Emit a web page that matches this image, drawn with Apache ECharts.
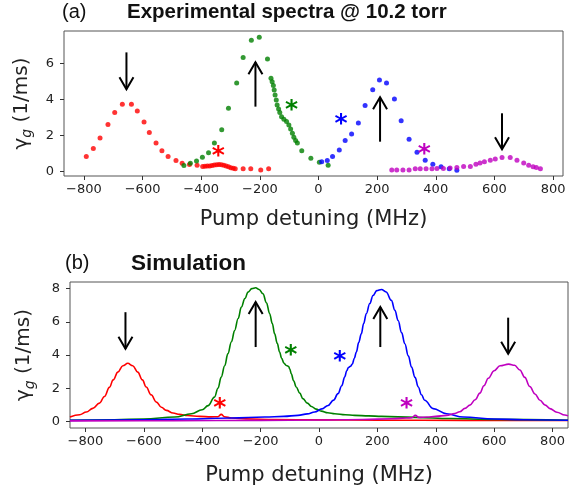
<!DOCTYPE html>
<html>
<head>
<meta charset="utf-8">
<script src="https://cdn.jsdelivr.net/npm/echarts@6/dist/echarts.min.js"></script>
<style>
html,body{margin:0;padding:0;background:#fff;}
#chart{width:570px;height:493px;}
</style>
</head>
<body>
<div id="chart"></div>
<script>
// ---------- DATA ----------
// (a) experimental spectra: [detuning MHz, gamma_g 1/ms]
const expRed = [[-792,0.81],[-768,1.26],[-745,1.85],[-718,2.59],[-695,3.26],[-669,3.72],[-638,3.72],[-618,3.35],[-595,2.74],[-577,2.15],[-554,1.56],[-534,1.13],[-513,0.81],[-486,0.59],[-465,0.44],[-440,0.37],[-414,0.33],[-395,0.26],[-387,0.27],[-379,0.28],[-371,0.29],[-363,0.31],[-355,0.34],[-347,0.36],[-339,0.37],[-331,0.36],[-323,0.33],[-315,0.28],[-307,0.24],[-299,0.19],[-291,0.16],[-284,0.14],[-257,0.13],[-231,0.13],[-197,0.06],[-170,0.13]];
const expGreen = [[-459,0.31],[-437,0.44],[-416,0.56],[-396,0.77],[-375,1.03],[-355,1.56],[-330,2.31],[-307,3.5],[-279,4.91],[-257,6.32],[-229,7.28],[-202,7.45],[-174,6.24],[-162,5.17],[-158,4.98],[-154,4.76],[-151,4.52],[-148,4.24],[-144,3.96],[-141,3.68],[-136,3.46],[-132,3.26],[-126,3.03],[-118,2.89],[-109,2.76],[-101,2.57],[-95,2.35],[-89,2.11],[-84,1.89],[-78,1.7],[-72,1.56],[-57,1.13],[-26,0.72],[3,0.5],[33,0.33]];
const expBlue = [[11,0.53],[30,0.59],[48,0.81],[71,1.18],[91,1.7],[113,2.07],[136,2.68],[159,3.65],[185,4.53],[208,5.07],[232,4.9],[259,4.02],[282,2.81],[309,1.78],[336,1.05],[364,0.6],[390,0.39],[418,0.24],[446,0.13],[472,0.05]];
const expMagenta = [[250,0.07],[267,0.07],[288,0.07],[309,0.07],[330,0.13],[347,0.13],[367,0.13],[387,0.14],[404,0.15],[426,0.15],[449,0.17],[472,0.2],[495,0.26],[518,0.26],[537,0.39],[551,0.45],[566,0.52],[586,0.6],[603,0.67],[626,0.76],[654,0.76],[677,0.6],[700,0.45],[717,0.33],[732,0.24],[743,0.2],[757,0.14]];

// (b) simulation curves
const simRed = [[-853,0.26],[-820,0.4],[-797,0.56],[-775,0.78],[-752,1.1],[-735,1.5],[-718,2.05],[-705,2.5],[-689,2.97],[-672,3.35],[-655,3.5],[-638,3.35],[-621,2.97],[-605,2.5],[-592,2.07],[-575,1.6],[-557,1.16],[-540,0.85],[-523,0.66],[-500,0.5],[-478,0.42],[-450,0.35],[-409,0.3],[-370,0.27],[-346,0.28],[-335,0.42],[-324,0.28],[-300,0.2],[-250,0.15],[-150,0.11],[0,0.09],[200,0.07],[500,0.06],[853,0.05]];
const simGreen = [[-853,0.07],[-700,0.1],[-600,0.14],[-494,0.26],[-437,0.46],[-400,0.7],[-380,0.95],[-358,1.46],[-346,2.0],[-335,2.67],[-323,3.35],[-312,4.08],[-300,4.8],[-289,5.48],[-277,6.2],[-266,6.89],[-254,7.4],[-243,7.79],[-230,8.0],[-217,8.05],[-205,7.95],[-192,7.69],[-180,7.15],[-169,6.49],[-160,5.9],[-152,5.28],[-143,4.7],[-135,4.18],[-128,3.8],[-120,3.5],[-112,3.37],[-104,3.31],[-100,3.15],[-95,2.87],[-87,2.45],[-78,2.07],[-66,1.7],[-55,1.37],[-40,1.1],[-26,0.9],[-10,0.74],[8,0.62],[30,0.52],[54,0.46],[90,0.4],[122,0.36],[170,0.33],[214,0.3],[328,0.24],[450,0.17],[600,0.12],[853,0.07]];
const simBlue = [[-853,0.06],[-600,0.1],[-450,0.14],[-300,0.2],[-186,0.26],[-120,0.3],[-72,0.36],[-40,0.45],[-15,0.56],[10,0.75],[31,0.96],[50,1.28],[65,1.67],[78,2.15],[88,2.67],[95,3.05],[101,3.25],[108,3.32],[114,3.45],[121,3.8],[128,4.18],[136,4.75],[145,5.28],[153,5.9],[162,6.49],[174,7.1],[185,7.59],[198,7.88],[214,7.95],[230,7.8],[248,7.29],[260,6.7],[271,6.08],[283,5.35],[294,4.68],[306,3.95],[317,3.27],[329,2.65],[340,2.07],[351,1.6],[362,1.27],[391,0.77],[437,0.46],[494,0.26],[600,0.14],[700,0.1],[853,0.07]];
const simMagenta = [[-853,0.03],[-500,0.04],[-200,0.06],[0,0.08],[150,0.11],[250,0.16],[300,0.2],[318,0.22],[330,0.36],[342,0.24],[370,0.26],[400,0.3],[437,0.36],[465,0.47],[482,0.58],[500,0.78],[517,0.98],[535,1.3],[551,1.7],[565,2.15],[580,2.6],[600,3.05],[620,3.35],[650,3.45],[670,3.38],[688,3.1],[705,2.65],[722,2.1],[740,1.65],[757,1.27],[775,0.98],[791,0.77],[815,0.55],[842,0.38],[853,0.33]];

// tick labels
const xTicks = [-800,-600,-400,-200,0,200,400,600,800];
const yTicksTop = [0,2,4,6];
const yTicksBottom = [0,2,4,6,8];

// annotations: arrows [x, yStart, yEnd], asterisks [x, y]
const arrowsTop = [[-655,6.61,4.56],[-215,3.59,6.06],[210,1.64,4.11],[626,3.22,1.22]];
const arrowsBottom = [[-663,6.58,4.38],[-217,4.48,7.19],[210,4.48,6.89],[648,6.25,4.08]];
const starsTop = [[-342,1.09],[-92,3.63],[77,2.85],[361,1.22]];
const starsBottom = [[-340,1.07],[-97,4.28],[71,3.92],[300,1.07]];

// ---------- STYLE ----------
const COLORS = ['#ff0000','#008000','#0000ff','#bf00bf'];
const FONT = 'DejaVu Sans';
const TFONT = 'Liberation Sans';

function arrowRender(params, api){
  const x = api.value(0), y0 = api.value(1), y1 = api.value(2);
  const p0 = api.coord([x,y0]), p1 = api.coord([x,y1]);
  const dir = p1[1] > p0[1] ? 1 : -1;
  const hl = 12, hw = 7;
  return {type:'group', children:[
    {type:'line', shape:{x1:p0[0],y1:p0[1],x2:p1[0],y2:p1[1]}, style:{stroke:'#000',lineWidth:2}},
    {type:'polyline', shape:{points:[[p1[0]-hw,p1[1]-dir*hl],[p1[0],p1[1]],[p1[0]+hw,p1[1]-dir*hl]]}, style:{stroke:'#000',lineWidth:2,fill:null}}
  ]};
}
function starRender(params, api){
  const p = api.coord([api.value(0), api.value(1)]);
  return {type:'text', x:p[0], y:p[1]+5, style:{text:'*', fill:COLORS[params.dataIndex], font:'bold 25px "'+FONT+'"', align:'center', verticalAlign:'middle'}};
}

function xAxisCfg(idx, min, max, gap){
  return {
    type:'value', gridIndex:idx, min:min, max:max,
    name:'Pump detuning (MHz)', nameLocation:'middle', nameGap:gap,
    nameTextStyle:{fontFamily:FONT, fontSize:21, color:'#222'},
    axisLine:{show:false, onZero:false}, splitLine:{show:false},
    axisTick:{show:true, inside:false, length:4, lineStyle:{color:'#333'}, customValues:xTicks},
    axisLabel:{fontFamily:FONT, fontSize:13, color:'#222', margin:7, customValues:xTicks,
      formatter:v=> (v<0?'\u2212'+(-v):String(v))}
  };
}
function yAxisCfg(idx, min, max, ticks, gap){
  return {
    type:'value', gridIndex:idx, min:min, max:max,
    name:'{g|\u03b3}{s|g}{n| (1/ms)}', nameLocation:'middle', nameGap:gap,
    nameTextStyle:{fontFamily:FONT, fontSize:20, color:'#222',
      rich:{g:{fontFamily:FONT,fontSize:20,color:'#222',lineHeight:27,verticalAlign:'middle'},
            s:{fontFamily:FONT,fontSize:14,fontStyle:'italic',color:'#222',lineHeight:27,verticalAlign:'bottom'},
            n:{fontFamily:FONT,fontSize:20,color:'#222',lineHeight:27,verticalAlign:'middle'}}},
    axisLine:{show:false, onZero:false}, splitLine:{show:false},
    axisTick:{show:true, inside:false, length:4, lineStyle:{color:'#333'}, customValues:ticks},
    axisLabel:{fontFamily:FONT, fontSize:13, color:'#222', margin:10, customValues:ticks}
  };
}

const series = [];
[expRed, expGreen, expBlue, expMagenta].forEach((d,i)=>{
  series.push({type:'scatter', xAxisIndex:0, yAxisIndex:0, data:d, symbol:'circle', symbolSize:5,
    itemStyle:{color:COLORS[i]}, silent:true});
});
[simRed, simGreen, simBlue, simMagenta].forEach((d,i)=>{
  series.push({type:'line', xAxisIndex:1, yAxisIndex:1, data:d, showSymbol:false, smooth:0.4, smoothMonotone:'x',
    lineStyle:{color:COLORS[i], width:1.6}, silent:true});
});
series.push({type:'custom', xAxisIndex:0, yAxisIndex:0, data:arrowsTop, renderItem:arrowRender, encode:{x:0,y:[1,2]}, clip:false, silent:true, z:5});
series.push({type:'custom', xAxisIndex:1, yAxisIndex:1, data:arrowsBottom, renderItem:arrowRender, encode:{x:0,y:[1,2]}, clip:false, silent:true, z:5});
series.push({type:'custom', xAxisIndex:0, yAxisIndex:0, data:starsTop, renderItem:starRender, encode:{x:0,y:1}, clip:false, silent:true, z:6});
series.push({type:'custom', xAxisIndex:1, yAxisIndex:1, data:starsBottom, renderItem:starRender, encode:{x:0,y:1}, clip:false, silent:true, z:6});

const chart = echarts.init(document.getElementById('chart'), null, {renderer:'canvas'});
chart.setOption({
  animation:false,
  backgroundColor:'#fff',
  title:[
    {text:'(a)', left:57, top:-3, textStyle:{fontFamily:TFONT, fontSize:20, fontWeight:'normal', color:'#111'}},
    {text:'Experimental spectra @ 10.2 torr', left:122, top:-3, textStyle:{fontFamily:TFONT, fontSize:20.5, fontWeight:'bold', color:'#111'}},
    {text:'(b)', left:60, top:248, textStyle:{fontFamily:TFONT, fontSize:20, fontWeight:'normal', color:'#111'}},
    {text:'Simulation', left:126, top:247, textStyle:{fontFamily:TFONT, fontSize:22.5, fontWeight:'bold', color:'#111'}}
  ],
  grid:[
    {left:64, right:7, top:31, height:145, show:true, borderColor:'#555', borderWidth:1, backgroundColor:'transparent'},
    {left:70, right:2, top:282, height:146, show:true, borderColor:'#555', borderWidth:1, backgroundColor:'transparent'}
  ],
  xAxis:[xAxisCfg(0,-868,834,33), xAxisCfg(1,-853,853,37)],
  yAxis:[yAxisCfg(0,-0.27,7.8,yTicksTop,29), yAxisCfg(1,-0.4,8.4,yTicksBottom,33)],
  series:series
});
</script>
</body>
</html>
